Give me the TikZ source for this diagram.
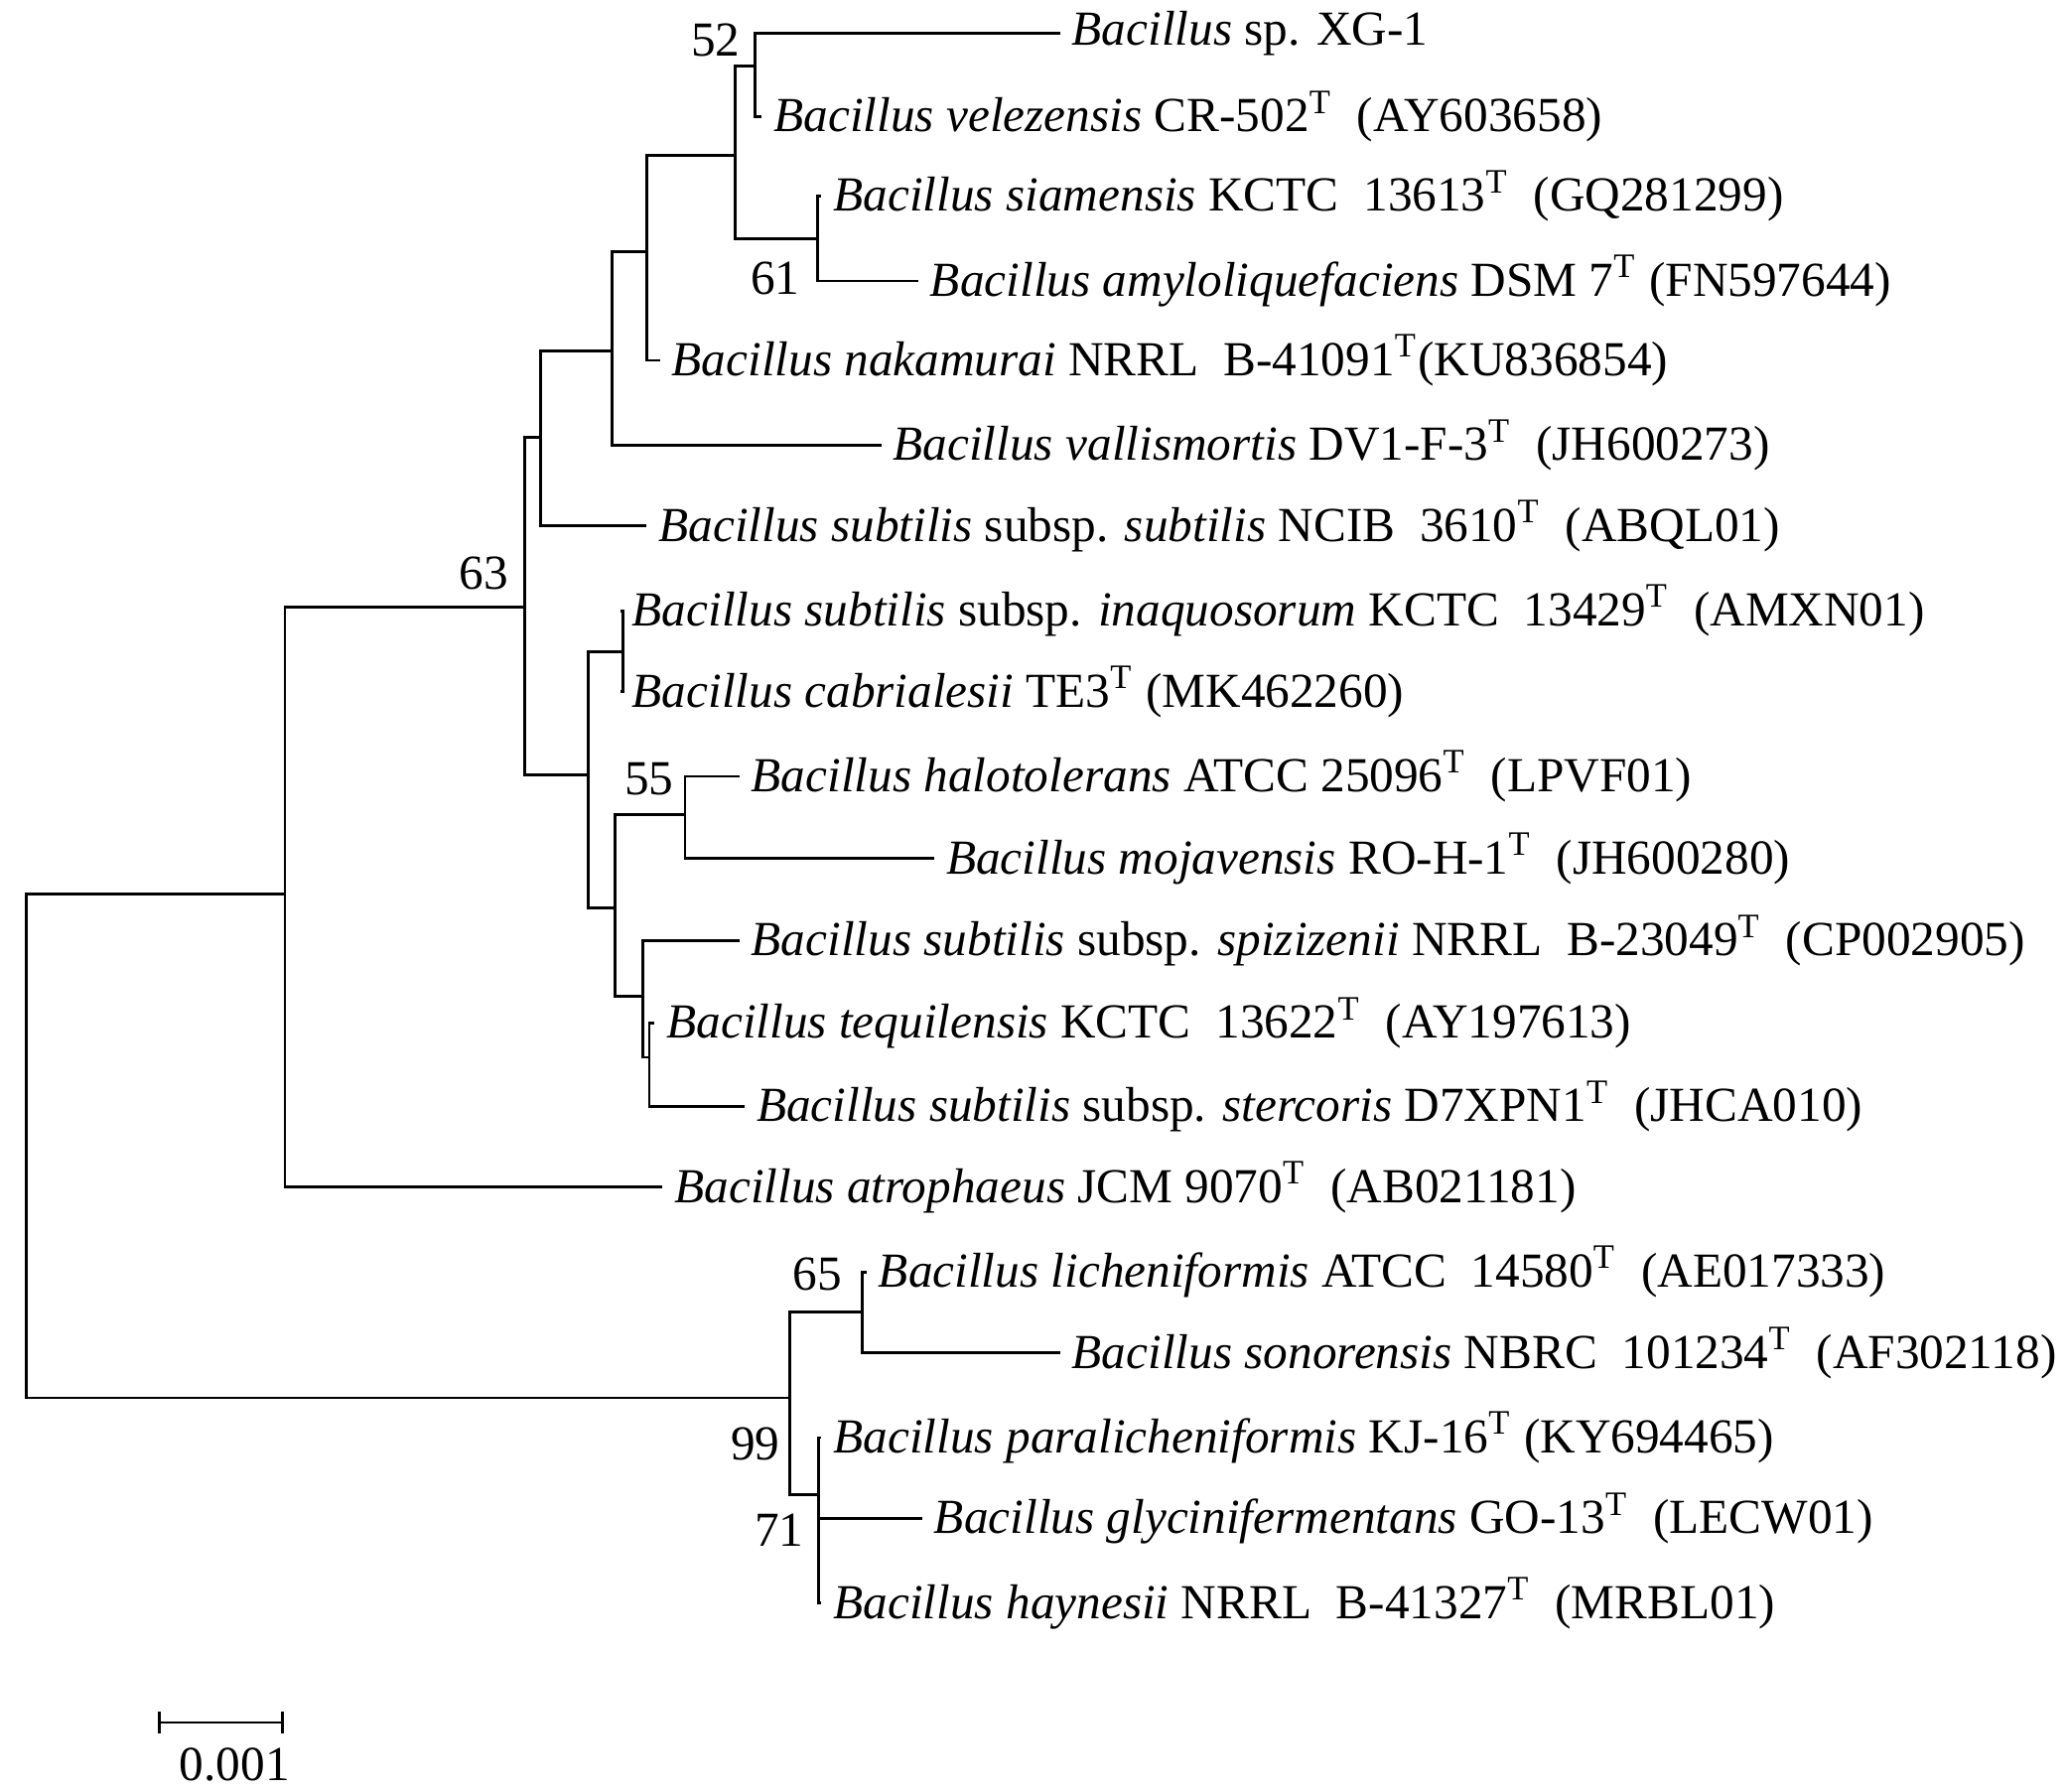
\documentclass[tikz,border=0pt]{standalone}
\usepackage{fontspec}
\setmainfont{Liberation Serif}
\usetikzlibrary{positioning}
\newcommand{\ty}{\textsuperscript{T}}
\begin{document}
\begin{tikzpicture}[x=0.01cm,y=-0.01cm,line width=0.6pt,
leaf/.style={anchor=west,inner xsep=0.08cm,inner ysep=0pt,font=\fontsize{10.5}{12}\selectfont},
boot/.style={font=\fontsize{10.5}{12}\selectfont,inner sep=1pt}]
\useasboundingbox (0,0) rectangle (1560,1352);

% leaves
\node[leaf] (xg) at (800,25) {\textit{Bacillus} sp. XG-1};
\node[leaf] (vel) at (575,88) {\textit{Bacillus velezensis} CR-502\ty\ \ (AY603658)};
\node[leaf] (sia) at (620,148) {\textit{Bacillus siamensis} KCTC\ \ 13613\ty\ \ (GQ281299)};
\node[leaf] (amy) at (693,212) {\textit{Bacillus amyloliquefaciens} DSM 7\ty\ (FN597644)};
\node[leaf] (nak) at (498,272) {\textit{Bacillus nakamurai} NRRL\ \ B-41091\ty(KU836854)};
\node[leaf] (val) at (665,336) {\textit{Bacillus vallismortis} DV1-F-3\ty\ \ (JH600273)};
\node[leaf] (sub) at (488,397) {\textit{Bacillus subtilis} subsp. \textit{subtilis} NCIB\ \ 3610\ty\ \ (ABQL01)};
\node[leaf] (ina) at (468,461) {\textit{Bacillus subtilis} subsp. \textit{inaquosorum} KCTC\ \ 13429\ty\ \ (AMXN01)};
\node[leaf] (cab) at (468,522) {\textit{Bacillus cabrialesii} TE3\ty\ (MK462260)};
\node[leaf] (hal) at (558,586) {\textit{Bacillus halotolerans} ATCC 25096\ty\ \ (LPVF01)};
\node[leaf] (moj) at (705,648) {\textit{Bacillus mojavensis} RO-H-1\ty\ \ (JH600280)};
\node[leaf] (spi) at (558,710) {\textit{Bacillus subtilis} subsp. \textit{spizizenii} NRRL\ \ B-23049\ty\ \ (CP002905)};
\node[leaf] (teq) at (494,772) {\textit{Bacillus tequilensis} KCTC\ \ 13622\ty\ \ (AY197613)};
\node[leaf] (ste) at (562,835) {\textit{Bacillus subtilis} subsp. \textit{stercoris} D7XPN1\ty\ \ (JHCA010)};
\node[leaf] (atr) at (500,896) {\textit{Bacillus atrophaeus} JCM 9070\ty\ \ (AB021181)};
\node[leaf] (lic) at (654,960) {\textit{Bacillus licheniformis} ATCC\ \ 14580\ty\ \ (AE017333)};
\node[leaf] (son) at (800,1021) {\textit{Bacillus sonorensis} NBRC\ \ 101234\ty\ \ (AF302118)};
\node[leaf] (par) at (620,1085) {\textit{Bacillus paralicheniformis} KJ-16\ty\ (KY694465)};
\node[leaf] (gly) at (696,1146) {\textit{Bacillus glycinifermentans} GO-13\ty\ \ (LECW01)};
\node[leaf] (hay) at (620,1210) {\textit{Bacillus haynesii} NRRL\ \ B-41327\ty\ \ (MRBL01)};

% internal nodes
\coordinate (n52) at (570,50);
\coordinate (n61) at (617,180);
\coordinate (na) at (555,117);
\coordinate (nb) at (488,190);
\coordinate (nc) at (462,265);
\coordinate (nd) at (408,330);
\coordinate (n63) at (396,458);
\coordinate (ng) at (470,492);
\coordinate (n55) at (517,615);
\coordinate (nk) at (490,798);
\coordinate (nj) at (485,752);
\coordinate (nh) at (464,685);
\coordinate (nf) at (444,585);
\coordinate (nl) at (215,675);
\coordinate (n65) at (651,990);
\coordinate (n71) at (618,1128);
\coordinate (n99) at (596,1055);
\coordinate (root) at (20,865);

% branches
\draw (n52) |- (xg.west) (n52) |- (vel.west);
\draw (n61) |- (sia.west) (n61) |- (amy.west);
\draw (na) |- (n52) (na) |- (n61);
\draw (nb) |- (na) (nb) |- (nak.west);
\draw (nc) |- (nb) (nc) |- (val.west);
\draw (nd) |- (nc) (nd) |- (sub.west);
\draw (ng) |- (ina.west) (ng) |- (cab.west);
\draw (n55) |- (hal.west) (n55) |- (moj.west);
\draw (nk) |- (teq.west) (nk) |- (ste.west);
\draw (nj) |- (spi.west) (nj) |- (nk);
\draw (nh) |- (n55) (nh) |- (nj);
\draw (nf) |- (ng) (nf) |- (nh);
\draw (n63) |- (nd) (n63) |- (nf);
\draw (nl) |- (n63) (nl) |- (atr.west);
\draw (n65) |- (lic.west) (n65) |- (son.west);
\draw (n71) |- (par.west) (n71) |- (gly.west) (n71) |- (hay.west);
\draw (n99) |- (n65) (n99) |- (n71);
\draw (root) |- (nl) (root) |- (n99);

% bootstrap values
\node[boot] (b52) at (540,30) {52};
\node[boot] (b61) at (585,210) {61};
\node[boot] (b63) at (365,433) {63};
\node[boot] (b55) at (490,588) {55};
\node[boot] (b65) at (617,962) {65};
\node[boot] (b99) at (570,1090) {99};
\node[boot] (b71) at (588,1155) {71};

% scale bar
\coordinate (s1) at (120,1300);
\coordinate (s2) at (213,1300);
\draw (s1) -- (s2);
\draw ([yshift=0.08cm]s1) -- ([yshift=-0.08cm]s1) ([yshift=0.08cm]s2) -- ([yshift=-0.08cm]s2);
\node[boot] (sc) at (177,1332) {0.001};
\end{tikzpicture}
\end{document}
